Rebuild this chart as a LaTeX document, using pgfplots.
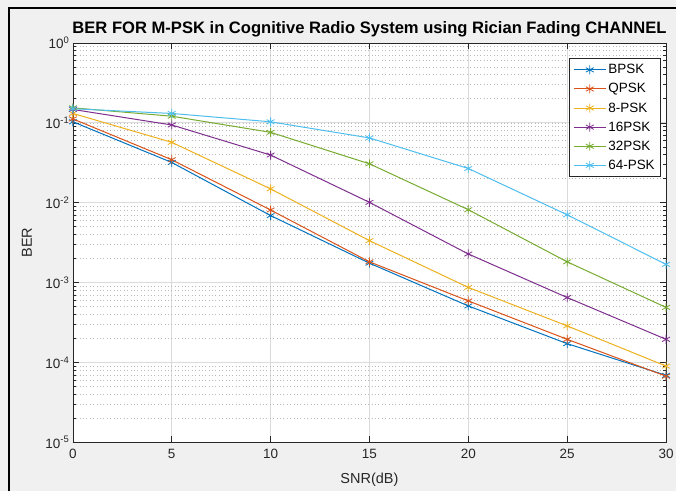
\documentclass[border=0pt]{standalone}
\usepackage{fontspec}
\setmainfont{Liberation Sans}
\usepackage{pgfplots}
\pgfplotsset{compat=1.18}
\definecolor{figbg}{gray}{0.94}
\definecolor{axgray}{gray}{0.15}
\definecolor{mBlue}{rgb}{0,0.447,0.741}
\definecolor{mOrange}{rgb}{0.85,0.325,0.098}
\definecolor{mYellow}{rgb}{0.929,0.694,0.125}
\definecolor{mPurple}{rgb}{0.494,0.184,0.556}
\definecolor{mGreen}{rgb}{0.466,0.674,0.188}
\definecolor{mCyan}{rgb}{0.301,0.745,0.933}
\tikzset{
  bercurve/.style={line width=1pt, mark=asterisk, mark size=4.5pt,
                   mark options={line width=0.8pt}},
}
\begin{document}
\begin{tikzpicture}
%% figure background and the screenshot frame
\fill[figbg] (0,0) rectangle (677pt,492pt);
\draw[line width=2pt, black] (9pt,0) -- (9pt,484pt) -- (677pt,484pt);
\begin{axis}[
  at={(73pt,49pt)}, anchor=south west,
  scale only axis, width=594pt, height=400pt,
  ymode=log,
  xmin=0, xmax=30, ymin=1e-5, ymax=1,
  axis background/.style={fill=white},
  axis line style={draw=axgray, line width=0.6pt},
  tick style={draw=axgray, line width=0.6pt},
  tick align=inside,
  major tick length=6pt, minor tick length=3pt,
  xtick={0,5,10,15,20,25,30},
  xticklabels={0,5,10,15,20,25,30},
  ytick={1e-5,1e-4,1e-3,1e-2,1e-1,1},
  yticklabels={10\textsuperscript{-5},10\textsuperscript{-4},10\textsuperscript{-3},
               10\textsuperscript{-2},10\textsuperscript{-1},10\textsuperscript{0}},
  tick label style={font=\fontsize{13.5}{15}\selectfont, text=axgray},
  xticklabel style={yshift=-3pt},
  xmajorgrids, ymajorgrids, yminorgrids,
  major grid style={draw=gray!28, line width=0.7pt},
  minor grid style={draw=gray!55, line width=0.6pt, dash pattern=on 0.8pt off 2.6pt},
  title={BER FOR M-PSK in Cognitive Radio System using Rician Fading CHANNEL},
  title style={font=\bfseries\fontsize{16.6}{18}\selectfont, yshift=-4pt},
  xlabel={SNR(dB)},
  ylabel={BER},
  label style={font=\fontsize{14.5}{16}\selectfont, text=axgray},
  xlabel style={at={(axis description cs:0.5,-0.0925)}, anchor=center},
  ylabel style={at={(axis description cs:-0.0775,0.5)}, anchor=center},
  legend style={at={(axis description cs:0.9916,0.962)}, anchor=north east,
                draw=axgray, fill=white, line width=0.6pt,
                font=\fontsize{13.5}{15}\selectfont, row sep=4.2pt,
                inner sep=4pt},
  legend cell align=left,
  legend image code/.code={%
    \draw[mark repeat=2, mark phase=2, #1]
      plot coordinates {(0pt,0pt) (16pt,0pt) (32pt,0pt)};},
]
\addplot[bercurve, mBlue] coordinates {
  (0,0.103) (5,0.0319) (10,0.0069) (15,0.00175) (20,0.00051) (25,0.000172) (30,0.000069)
};
\addlegendentry{BPSK}
\addplot[bercurve, mOrange] coordinates {
  (0,0.112) (5,0.0345) (10,0.0081) (15,0.00182) (20,0.00059) (25,0.000195) (30,0.0000673)
};
\addlegendentry{QPSK}
\addplot[bercurve, mYellow] coordinates {
  (0,0.131) (5,0.057) (10,0.0149) (15,0.00335) (20,0.00087) (25,0.000287) (30,0.00009)
};
\addlegendentry{8-PSK}
\addplot[bercurve, mPurple] coordinates {
  (0,0.147) (5,0.094) (10,0.0395) (15,0.0101) (20,0.00228) (25,0.00065) (30,0.000195)
};
\addlegendentry{16PSK}
\addplot[bercurve, mGreen] coordinates {
  (0,0.154) (5,0.121) (10,0.076) (15,0.0307) (20,0.00817) (25,0.00182) (30,0.000489)
};
\addlegendentry{32PSK}
\addplot[bercurve, mCyan] coordinates {
  (0,0.150) (5,0.131) (10,0.103) (15,0.0647) (20,0.0268) (25,0.00706) (30,0.00169)
};
\addlegendentry{64-PSK}
\end{axis}
\end{tikzpicture}
\end{document}
